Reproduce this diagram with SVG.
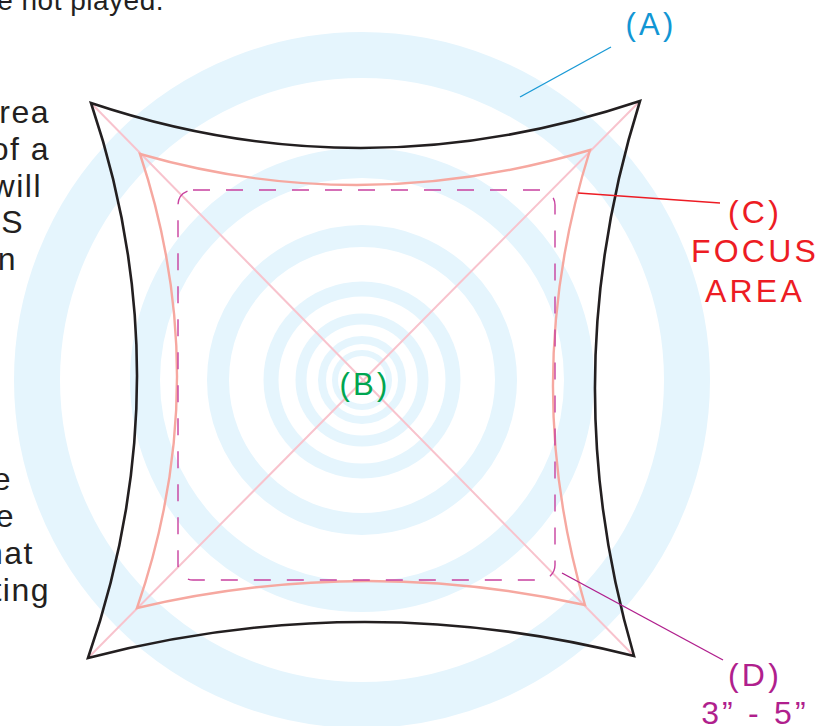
<svg xmlns="http://www.w3.org/2000/svg" width="829" height="726" viewBox="0 0 829 726">
<defs>
<style>
.ring{fill:none;stroke:#e5f5fd}
.body{font-family:"Liberation Sans",Arial,sans-serif;font-size:32px;fill:#231f20;letter-spacing:1.5px}
.lbl{font-family:"Liberation Sans",Arial,sans-serif;font-size:32px;letter-spacing:3.2px;text-anchor:middle}
.lead{fill:none;stroke-width:1.4}
</style>
</defs>
<rect width="829" height="726" fill="#ffffff"/>
<g id="rings">
<circle class="ring" cx="362" cy="380" r="325" stroke-width="46"/>
<circle class="ring" cx="362" cy="380" r="217" stroke-width="30"/>
<circle class="ring" cx="362" cy="380" r="144" stroke-width="22"/>
<circle class="ring" cx="362" cy="380" r="91" stroke-width="15"/>
<circle class="ring" cx="362" cy="380" r="61" stroke-width="11"/>
<circle class="ring" cx="362" cy="380" r="40" stroke-width="8"/>
<circle class="ring" cx="362" cy="380" r="27" stroke-width="6"/>
</g>
<g id="side-text" class="body">
<text x="164" y="10" text-anchor="end" style="font-size:28px;letter-spacing:0.5px">e not played.</text>
<text x="50" y="123" text-anchor="end">area</text>
<text x="50" y="160" text-anchor="end">of a</text>
<text x="42" y="197" text-anchor="end">will</text>
<text x="24" y="233" text-anchor="end">S</text>
<text x="17" y="270" text-anchor="end">n</text>
<text x="12" y="490" text-anchor="end">e</text>
<text x="15" y="527" text-anchor="end">e</text>
<text x="34" y="564" text-anchor="end">hat</text>
<text x="50" y="601" text-anchor="end">ting</text>
</g>
<g id="diagonals" fill="none" stroke="#f8c3cd" stroke-width="2">
<path d="M91,103 L634,656"/>
<path d="M640,101 L88,658"/>
</g>
<g id="node-A-outline">
<path d="M91,103 Q362,194 640,101 Q553,378 634,656 Q361,587 88,658 Q184.5,380 91,103 Z" fill="none" stroke="#231f20" stroke-width="2.6" stroke-linejoin="miter"/>
</g>
<g id="node-C-focus">
<path d="M140,154 Q362,218 590,150 Q518.5,378 585,605 Q361,555.5 137,608 Q215.5,381 140,154 Z" fill="none" stroke="#f6a8a0" stroke-width="2.4"/>
</g>
<g id="node-D-dashed">
<rect x="178" y="190" width="377" height="390" rx="15" fill="none" stroke="#c8409f" stroke-width="1.4" stroke-dasharray="17 16"/>
</g>
<g id="connectors">
<path class="lead" d="M611,47 L520,97" stroke="#1a9ad6"/>
<path class="lead" d="M578,193 L720,203" stroke="#ed1c24"/>
<path class="lead" d="M562,573 L723,660" stroke="#b01f8d"/>
</g>
<g id="label-A"><text class="lbl" x="651" y="35" fill="#1296d4" style="font-size:31px">(A)</text></g>
<g id="label-B"><text class="lbl" x="365" y="395" fill="#00a651" style="font-size:31px">(B)</text></g>
<g id="label-C" fill="#ed1c24">
<text class="lbl" x="755" y="223">(C)</text>
<text class="lbl" x="755" y="262">FOCUS</text>
<text class="lbl" x="755" y="302">AREA</text>
</g>
<g id="label-D" fill="#b01f8d">
<text class="lbl" x="755" y="686">(D)</text>
<text class="lbl" x="755" y="724">3” - 5”</text>
</g>
</svg>
